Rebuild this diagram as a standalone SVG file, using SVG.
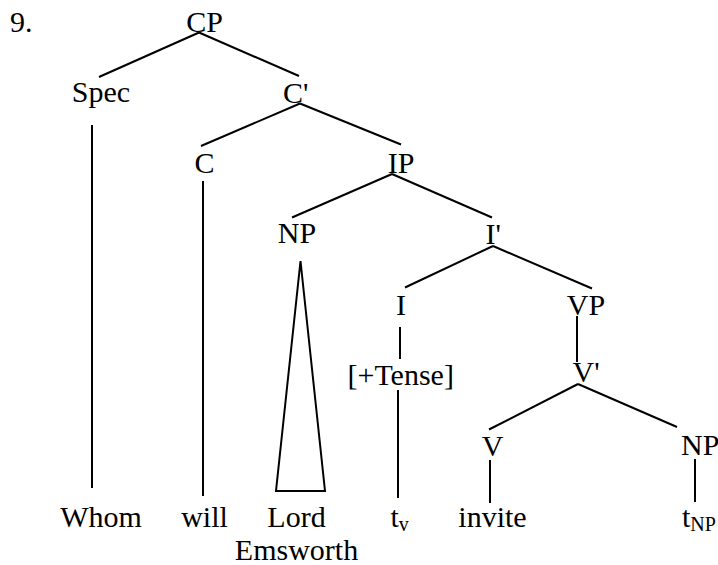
<svg xmlns="http://www.w3.org/2000/svg" width="718" height="565" viewBox="0 0 718 565">
  <style>
    text { font-family: 'Liberation Serif', Tinos, 'Times New Roman', 'Nimbus Roman', 'DejaVu Serif', serif; font-size: 30px; fill: #000; }
    .m { text-anchor: middle; }
    .sub { font-size: 20px; }
    .edge { stroke: #000; stroke-width: 2; fill: none; stroke-linecap: butt; }
  </style>
  <rect width="718" height="565" fill="#fff"/>

  <g font-family="Liberation Serif, serif">
  <text x="10" y="32">9.</text>

  <!-- branches of the tree -->
  <g id="connectors">
    <line class="edge" x1="199" y1="32.5" x2="99" y2="77"/>
    <line class="edge" x1="199" y1="32.5" x2="299" y2="76"/>
    <line class="edge" x1="300" y1="103.5" x2="201" y2="146"/>
    <line class="edge" x1="300" y1="103.5" x2="401" y2="144.5"/>
    <line class="edge" x1="92" y1="125" x2="92" y2="488"/>
    <line class="edge" x1="203" y1="181" x2="203" y2="496"/>
    <line class="edge" x1="392" y1="174" x2="292" y2="217.5"/>
    <line class="edge" x1="392" y1="174" x2="492" y2="217.5"/>
    <polygon class="edge" points="300.5,261 276,491 325,491"/>
    <line class="edge" x1="493" y1="246" x2="405" y2="287.5"/>
    <line class="edge" x1="493" y1="246" x2="592" y2="288.5"/>
    <line class="edge" x1="400" y1="327" x2="400" y2="359"/>
    <line class="edge" x1="398" y1="390" x2="398" y2="498"/>
    <line class="edge" x1="577" y1="316" x2="577" y2="362"/>
    <line class="edge" x1="578" y1="384" x2="489" y2="429.5"/>
    <line class="edge" x1="578" y1="384" x2="677" y2="427"/>
    <line class="edge" x1="490" y1="460" x2="490" y2="503"/>
    <line class="edge" x1="695" y1="459" x2="695" y2="502"/>
  </g>

  <!-- category labels -->
  <g id="cp"><text class="m" x="204.5" y="32">CP</text></g>
  <g id="spec"><text class="m" x="101" y="101.5">Spec</text></g>
  <g id="c-bar"><text x="283" y="102.5">C'</text></g>
  <g id="c"><text class="m" x="204.5" y="173">C</text></g>
  <g id="ip"><text class="m" x="401" y="173">IP</text></g>
  <g id="np-subject"><text class="m" x="297" y="243">NP</text></g>
  <g id="i-bar"><text x="485.5" y="244">I'</text></g>
  <g id="i"><text class="m" x="401" y="315">I</text></g>
  <g id="vp"><text class="m" x="586" y="315">VP</text></g>
  <g id="tense"><text class="m" x="400.7" y="385">[+Tense]</text></g>
  <g id="v-bar"><text x="572.5" y="382">V'</text></g>
  <g id="v"><text class="m" x="492.7" y="455.5">V</text></g>
  <g id="np-object"><text x="681" y="455">NP</text></g>

  <!-- terminals -->
  <g id="whom"><text class="m" x="101" y="527">Whom</text></g>
  <g id="will"><text class="m" x="204.5" y="527">will</text></g>
  <g id="lord-emsworth">
    <text class="m" x="296.5" y="527">Lord</text>
    <text class="m" x="296.5" y="560">Emsworth</text>
  </g>
  <g id="t-v"><text x="390.5" y="527">t<tspan class="sub" dy="4">v</tspan></text></g>
  <g id="invite"><text class="m" x="492.5" y="527">invite</text></g>
  <g id="t-np"><text x="682" y="527">t<tspan class="sub" dy="4">NP</tspan></text></g>
  </g>
</svg>
